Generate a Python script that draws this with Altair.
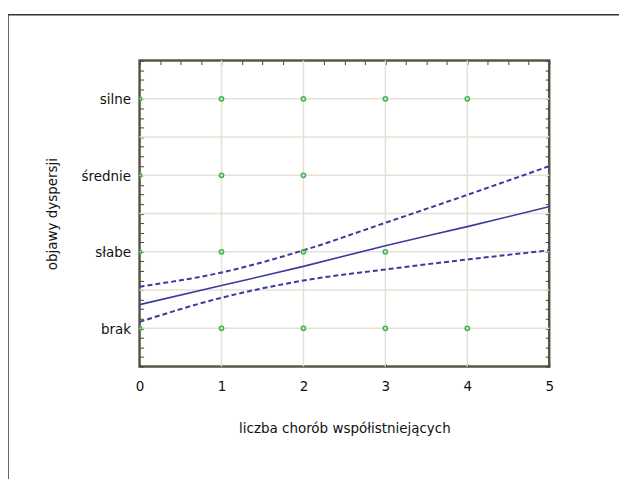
import altair as alt
import pandas as pd
import numpy as np

# ---- data ----
categories = ["brak", "słabe", "średnie", "silne"]
pts_brak = [0, 1, 2, 3, 4]
pts_slabe = [0, 1, 2, 3]
pts_srednie = [0, 1, 2]
pts_silne = [0, 1, 2, 3, 4]

fit_x = [0, 1, 2, 3, 4, 5]
fit_y = [0.31, 0.56, 0.81, 1.08, 1.33, 1.59]
upper_y = [0.545, 0.73, 1.02, 1.38, 1.745, 2.12]
lower_y = [0.085, 0.40, 0.625, 0.77, 0.90, 1.02]

x_ticks = [0, 1, 2, 3, 4, 5]
grid_x = [1, 2, 3, 4]
grid_y = [0, 0.5, 1, 1.5, 2, 2.5, 3]

FONT = "DejaVu Sans Condensed, Liberation Sans, sans-serif"
FS = 15
W, H = 411, 307

pts = []
for level, xs in enumerate([pts_brak, pts_slabe, pts_srednie, pts_silne]):
    for xv in xs:
        pts.append({"x": xv, "y": level})
df_pts = pd.DataFrame(pts)
df_fit = pd.DataFrame({"x": fit_x, "fit": fit_y, "up": upper_y, "lo": lower_y})

xs = alt.Scale(domain=[0, 5], nice=False, zero=False)
ys = alt.Scale(domain=[-0.5, 3.5], nice=False, zero=False)

label_expr = " : ".join(
    [f"datum.value == {i} ? '{c}'" for i, c in enumerate(categories)]
) + " : ''"

minor_x = [float(v) for v in np.arange(0, 5.0001, 0.25)]
minor_y = [float(v) for v in np.arange(-0.5, 3.5001, 0.125)]

TICK = "#4a4438"
GRID = "#e8e0d6"
BLUE = "#3b3b9e"
GREEN = "#3cb54a"

gv = alt.Chart(pd.DataFrame({"g": grid_x})).mark_rule(color=GRID, strokeWidth=1.5).encode(
    x=alt.X("g:Q", scale=xs, axis=None))
gh = alt.Chart(pd.DataFrame({"g": grid_y})).mark_rule(color=GRID, strokeWidth=1.5).encode(
    y=alt.Y("g:Q", scale=ys, axis=None))

points = alt.Chart(df_pts).mark_point(
    shape="circle", filled=False, color=GREEN, size=18, strokeWidth=1.5, clip=True, opacity=1
).encode(
    x=alt.X("x:Q", scale=xs, axis=alt.Axis(
        orient="bottom", values=x_ticks, grid=False, domain=False, offset=-3,
        tickSize=3, tickColor=TICK, labelPadding=12, labelFlush=False,
        title="liczba chorób współistniejących", titlePadding=27)),
    y=alt.Y("y:Q", scale=ys, axis=alt.Axis(
        orient="left", values=minor_y, labelExpr=label_expr, grid=False, domain=False,
        offset=-4, tickSize=4, tickColor=TICK, labelPadding=9, labelOverlap=False,
        title="objawy dyspersji", titlePadding=22)),
)

fit = alt.Chart(df_fit).mark_line(color=BLUE, strokeWidth=1.6, interpolate="monotone").encode(
    x=alt.X("x:Q", scale=xs, axis=alt.Axis(
        orient="top", values=minor_x, labels=False, grid=False, domain=False,
        offset=-4, tickSize=4, tickColor=TICK, title=None)),
    y=alt.Y("fit:Q", scale=ys, axis=alt.Axis(
        orient="right", values=minor_y, labels=False, grid=False, domain=False,
        offset=-4, tickSize=4, tickColor=TICK, title=None)),
)

up = alt.Chart(df_fit).mark_line(color=BLUE, strokeWidth=2, strokeDash=[5, 3], interpolate="monotone").encode(
    x=alt.X("x:Q", scale=xs, axis=None), y=alt.Y("up:Q", scale=ys, axis=None))
lo = alt.Chart(df_fit).mark_line(color=BLUE, strokeWidth=2, strokeDash=[5, 3], interpolate="monotone").encode(
    x=alt.X("x:Q", scale=xs, axis=None), y=alt.Y("lo:Q", scale=ys, axis=None))

one = pd.DataFrame({"a": [0]})
box_top = alt.Chart(one).mark_rule(color="#333333", strokeWidth=1.5).encode(
    x=alt.value(-132), x2=alt.value(600), y=alt.value(-46))
box_left = alt.Chart(one).mark_rule(color="#333333", strokeWidth=1.5).encode(
    x=alt.value(-132), y=alt.value(-46), y2=alt.value(600))

chart = alt.layer(gv, gh, up, lo, fit, points, box_top, box_left).resolve_axis(
    x="independent", y="independent"
).properties(
    width=W, height=H,
    autosize=alt.AutoSizeParams(type="none"),
    padding={"left": 132, "top": 52, "right": 70, "bottom": 112},
).configure_view(
    stroke="#5b5548", strokeWidth=2.5
).configure_axis(
    labelFont=FONT, titleFont=FONT, labelFontSize=FS, titleFontSize=FS,
    labelColor="#111111", titleColor="#111111", titleFontWeight="normal",
)

chart.save("out.html", embed_options={"renderer": "svg", "actions": False})
